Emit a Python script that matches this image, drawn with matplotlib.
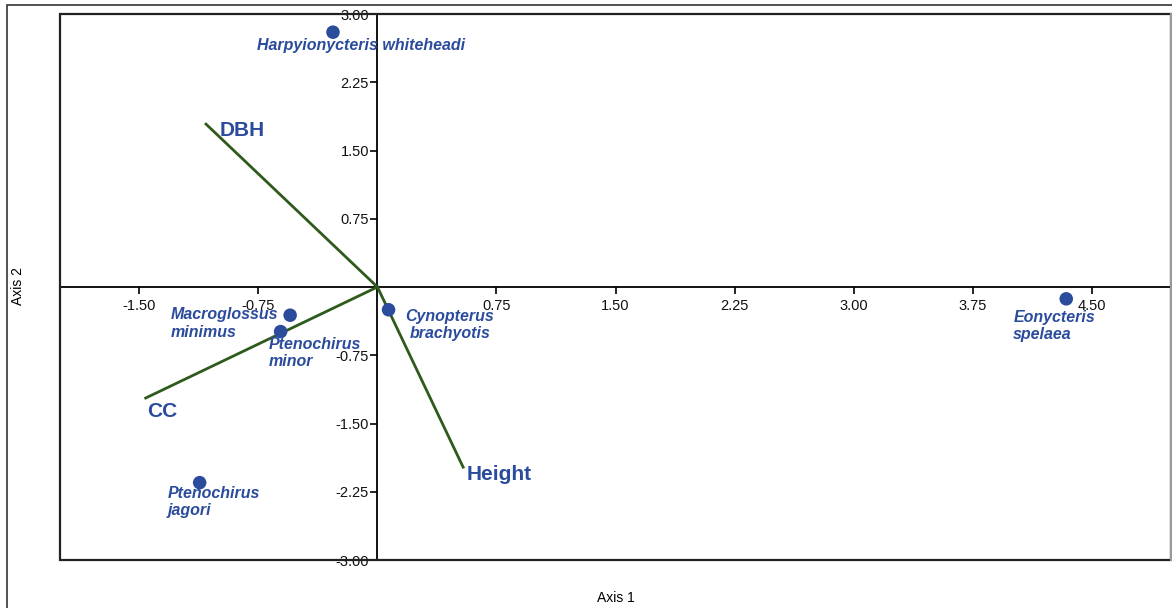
import matplotlib
matplotlib.use("Agg")
import matplotlib.pyplot as plt
from matplotlib.patches import Rectangle
import matplotlib.ticker

# species scores on the first two axes
species = ["Harpyionycteris whiteheadi", "Macroglossus\nminimus", "Ptenochirus\nminor",
           "Cynopterus\nbrachyotis", "Eonycteris\nspelaea", "Ptenochirus\njagori"]
axis1 = [-0.28, -0.55, -0.61, 0.07, 4.34, -1.12]
axis2 = [2.80, -0.31, -0.49, -0.25, -0.13, -2.15]

# environmental vectors
variables = ["DBH", "CC", "Height"]
var_x = [-1.08, -1.46, 0.54]
var_y = [1.79, -1.22, -1.98]

ticks = [-3.0, -2.25, -1.5, -0.75, 0.75, 1.5, 2.25, 3.0, 3.75, 4.5]

# label offsets (pixels) relative to each point
species_offsets = [(-76, -13), (-119, 8), (-12, -5), (17, 1), (-53, -11), (-32, -3)]
species_va = ["center", "top", "top", "top", "top", "top"]
species_align = ["left", "left", "left", "center", "left", "left"]
var_offsets = [(14, -6), (1, -13), (3, -7)]

blue = "#2b4c9d"
green = "#2e5a1c"


def tickText(x, pos):
    return "{0:.2f}".format(x)


fig = plt.figure(figsize=(11.72, 6.08), dpi=100)
ax = fig.add_axes((60 / 1172, 48 / 608, 1111 / 1172, 546 / 608))
ax.set_xlim(-2.0, 5.0)
ax.set_ylim(-3.0, 3.0)

# outer page frame
fig.add_artist(Rectangle((7 / 1172, -0.01), 1.2, 1 - 5 / 608 + 0.01, transform=fig.transFigure,
                         fill=False, edgecolor="#333333", linewidth=1.2))

for side in ["top", "right"]:
    ax.spines[side].set_visible(False)
ax.spines["left"].set_position(("data", 0))
ax.spines["bottom"].set_position(("data", 0))
ax.spines["left"].set_linewidth(1.3)
ax.spines["bottom"].set_linewidth(1.3)
ax.add_patch(Rectangle((0, 0), 1, 1, transform=ax.transAxes, fill=False,
                       edgecolor="#222222", linewidth=1.6, clip_on=False, zorder=5))
ax.plot([1, 1], [0, 1], transform=ax.transAxes, color="#999999", linewidth=1.5,
        clip_on=False, zorder=6)

ax.set_xticks([t for t in ticks if -2 < t < 5])
ax.set_yticks([t for t in ticks if -3 <= t <= 3])
fmt = matplotlib.ticker.FuncFormatter(tickText)
ax.xaxis.set_major_formatter(fmt)
ax.yaxis.set_major_formatter(fmt)
ax.tick_params(axis="x", direction="out", length=5, width=1.2, pad=4, labelsize=10.5)
ax.tick_params(axis="y", direction="out", length=5, width=1.2, pad=1, labelsize=10.5)
for lab in ax.get_xticklabels() + ax.get_yticklabels():
    lab.set_family("Liberation Sans")
    lab.set_color("#111111")

# vectors
for vx, vy, name, off in zip(var_x, var_y, variables, var_offsets):
    ax.plot([0, vx], [0, vy], color=green, linewidth=2, zorder=3)
    ax.annotate(name, xy=(vx, vy), xytext=off, textcoords="offset pixels",
                ha="left", va="center", fontsize=15, fontweight="bold",
                color=blue, family="Liberation Sans")

# species points
ax.scatter(axis1, axis2, s=95, color=blue, zorder=4, edgecolors="none")
for x, y, name, off, va, al in zip(axis1, axis2, species, species_offsets, species_va, species_align):
    ax.annotate(name, xy=(x, y), xytext=off, textcoords="offset pixels",
                ha="left", va=va, multialignment=al, fontsize=11.5, fontweight="bold",
                fontstyle="italic", color=blue, family="Liberation Sans", linespacing=1.2)

fig.text(616 / 1172, 1 - 598 / 608, "Axis 1", ha="center", va="center", fontsize=10,
         family="Liberation Sans")
fig.text(18 / 1172, 1 - 286 / 608, "Axis 2", ha="center", va="center", rotation=90,
         fontsize=10, family="Liberation Sans")

fig.savefig("out.png", dpi=100)
